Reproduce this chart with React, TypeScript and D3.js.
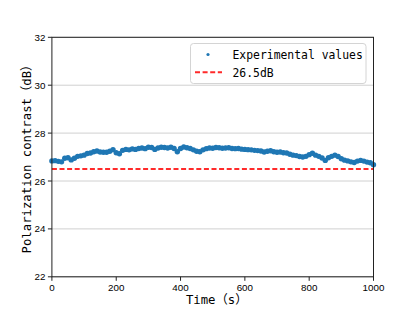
import { useEffect, useRef } from 'react'
import * as d3 from 'd3'

const times = [
  0, 10, 20, 30, 40, 50, 60, 70, 80, 90,
  100, 110, 120, 130, 140, 150, 160, 170, 180, 190,
  200, 210, 220, 230, 240, 250, 260, 270, 280, 290,
  300, 310, 320, 330, 340, 350, 360, 370, 380, 390,
  400, 410, 420, 430, 440, 450, 460, 470, 480, 490,
  500, 510, 520, 530, 540, 550, 560, 570, 580, 590,
  600, 610, 620, 630, 640, 650, 660, 670, 680, 690,
  700, 710, 720, 730, 740, 750, 760, 770, 780, 790,
  800, 810, 820, 830, 840, 850, 860, 870, 880, 890,
  900, 910, 920, 930, 940, 950, 960, 970, 980, 990, 1000,
]

const contrast = [
  26.84, 26.85, 26.82, 26.8, 26.95, 26.97, 26.88, 26.95, 27.03, 27.05,
  27.08, 27.15, 27.17, 27.22, 27.25, 27.21, 27.2, 27.2, 27.24, 27.31,
  27.18, 27.14, 27.28, 27.32, 27.3, 27.34, 27.32, 27.36, 27.38, 27.35,
  27.41, 27.4, 27.32, 27.38, 27.41, 27.4, 27.38, 27.41, 27.36, 27.22,
  27.36, 27.42, 27.39, 27.36, 27.3, 27.24, 27.22, 27.3, 27.35, 27.38,
  27.37, 27.4, 27.39, 27.37, 27.38, 27.39, 27.36, 27.35, 27.36, 27.33,
  27.32, 27.31, 27.3, 27.28, 27.27, 27.25, 27.21, 27.24, 27.26, 27.22,
  27.2, 27.21, 27.18, 27.17, 27.12, 27.08, 27.06, 27.02, 27.0, 27.03,
  27.1, 27.16, 27.08, 27.03, 26.96, 26.86, 26.97, 27.03, 27.08, 27.02,
  26.93, 26.87, 26.84, 26.8, 26.77, 26.83, 26.86, 26.83, 26.79, 26.76, 26.68,
]

const threshold = 26.5
const xTicks = [0, 200, 400, 600, 800, 1000]
const yTicks = [22, 24, 26, 28, 30, 32]
const legendLabels = ['Experimental values', '26.5dB']

const W = 415
const H = 311
const labelFont = '"DejaVu Sans Mono", "Noto Sans CJK SC", monospace'
const tickFont = '"Liberation Sans", Arial, sans-serif'

const App = () => {
  const ref = useRef(null)

  useEffect(() => {
    if (!ref.current) return
    const left = 51.9, right = 373.5, top = 37.3, bottom = 276.8

    const x = d3.scaleLinear().domain([0, 1000]).range([left, right])
    const y = d3.scaleLinear().domain([22, 32]).range([bottom, top])

    const svg = d3.select(ref.current)
    svg.selectAll('*').remove()

    // horizontal grid
    svg.append('g').selectAll('line')
      .data(yTicks).enter().append('line')
      .attr('x1', left).attr('x2', right)
      .attr('y1', d => y(d)).attr('y2', d => y(d))
      .attr('stroke', '#d0d0d0')
      .attr('stroke-width', 1)

    // threshold line
    svg.append('line')
      .attr('x1', x(0)).attr('x2', x(1000))
      .attr('y1', y(threshold)).attr('y2', y(threshold))
      .attr('stroke', '#ff2a2a')
      .attr('stroke-width', 2)
      .attr('stroke-dasharray', '5,2.6')

    // scatter points
    svg.append('g').selectAll('circle')
      .data(times).enter().append('circle')
      .attr('cx', d => x(d))
      .attr('cy', (d, i) => y(contrast[i]))
      .attr('r', 2.7)
      .attr('fill', '#1f77b4')

    // spines
    svg.append('rect')
      .attr('x', left).attr('y', top)
      .attr('width', right - left).attr('height', bottom - top)
      .attr('fill', 'none')
      .attr('stroke', '#222')
      .attr('stroke-width', 1)

    // x axis
    const xAxis = svg.append('g')
    xAxis.selectAll('line')
      .data(xTicks).enter().append('line')
      .attr('x1', d => x(d)).attr('x2', d => x(d))
      .attr('y1', bottom).attr('y2', bottom + 4)
      .attr('stroke', '#222')
    xAxis.selectAll('text')
      .data(xTicks).enter().append('text')
      .text(d => d)
      .attr('x', d => x(d))
      .attr('y', bottom + 14.5)
      .attr('text-anchor', 'middle')
      .style('font-family', tickFont)
      .style('font-size', '9.8px')

    // y axis
    const yAxis = svg.append('g')
    yAxis.selectAll('line')
      .data(yTicks).enter().append('line')
      .attr('x1', left - 4).attr('x2', left)
      .attr('y1', d => y(d)).attr('y2', d => y(d))
      .attr('stroke', '#222')
    yAxis.selectAll('text')
      .data(yTicks).enter().append('text')
      .text(d => d)
      .attr('x', left - 6.5)
      .attr('y', d => y(d) + 3.5)
      .attr('text-anchor', 'end')
      .style('font-family', tickFont)
      .style('font-size', '9.8px')

    // axis titles
    svg.append('text')
      .text('Time（s）')
      .attr('x', (left + right) / 2 + 4)
      .attr('y', 304)
      .attr('text-anchor', 'middle')
      .style('font-family', labelFont)
      .style('font-size', '12.3px')

    svg.append('text')
      .text('Polarization contrast（dB）')
      .attr('transform', `translate(31,${(top + bottom) / 2 - 1}) rotate(-90)`)
      .attr('text-anchor', 'middle')
      .style('font-family', labelFont)
      .style('font-size', '12.3px')

    // legend
    const lg = svg.append('g')
    lg.append('rect')
      .attr('x', 190.5).attr('y', 43.5)
      .attr('width', 175.5).attr('height', 40)
      .attr('rx', 3)
      .attr('fill', 'white')
      .attr('fill-opacity', 0.85)
      .attr('stroke', '#d4d4d4')
    lg.append('circle')
      .attr('cx', 208).attr('cy', 54.5)
      .attr('r', 1.6)
      .attr('fill', '#1f77b4')
    lg.append('line')
      .attr('x1', 195).attr('x2', 222)
      .attr('y1', 72.3).attr('y2', 72.3)
      .attr('stroke', '#ff2a2a')
      .attr('stroke-width', 2)
      .attr('stroke-dasharray', '5,2.6')
    lg.selectAll('text')
      .data(legendLabels).enter().append('text')
      .text(d => d)
      .attr('x', 232.5)
      .attr('y', (d, i) => 58.5 + i * 18)
      .style('font-family', labelFont)
      .style('font-size', '11.4px')
  }, [])

  return (
    <div style={{ position: 'fixed', left: 0, top: 0, width: W, height: H, background: 'white' }}>
      <svg width={W} height={H} ref={ref} />
    </div>
  )
}

export default App
